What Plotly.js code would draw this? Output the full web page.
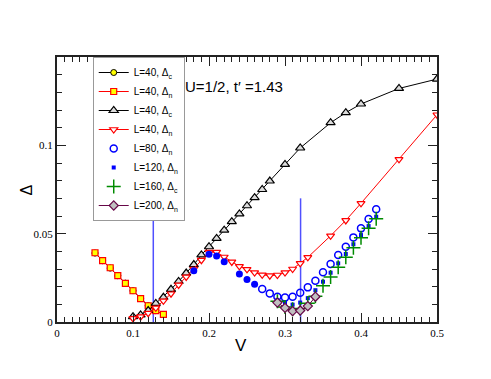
<!DOCTYPE html>
<html>
<head>
<meta charset="utf-8">
<script src="https://cdn.plot.ly/plotly-3.0.1.min.js"></script>
<style>html,body{margin:0;padding:0;background:#fff;}#chart{width:491px;height:379px;}</style>
</head>
<body>
<div id="chart"></div>
<script>
// L=40, Δc (circles, decreasing branch)
const V_c40a = [0.05,0.06,0.07,0.08,0.09,0.10,0.11,0.12,0.13];
const D_c40a = [0.0390,0.0347,0.0305,0.0262,0.0220,0.0177,0.0133,0.0092,0.0064];
// L=40, Δn (squares, decreasing branch)
const V_n40a = [0.05,0.06,0.07,0.08,0.09,0.10,0.11,0.12,0.13,0.14];
const D_n40a = [0.0392,0.0347,0.0307,0.0262,0.0219,0.0177,0.0132,0.0092,0.0064,0.0043];
// L=40, Δc (up triangles)
const V_c40b = [0.10,0.11,0.12,0.13,0.14,0.15,0.16,0.17,0.18,0.19,0.20,0.21,0.22,0.23,0.24,0.25,0.26,0.27,0.28,0.30,0.32,0.36,0.38,0.40,0.45,0.50];
const D_c40b = [0.0030,0.0040,0.0065,0.0105,0.0140,0.0185,0.0230,0.0277,0.0325,0.0380,0.0426,0.0473,0.0520,0.0568,0.0612,0.0658,0.0704,0.0750,0.0798,0.0892,0.0985,0.1128,0.1185,0.1234,0.1322,0.1375];
// L=40, Δn (down triangles)
const V_n40b = [0.10,0.11,0.12,0.13,0.14,0.15,0.16,0.17,0.18,0.19,0.20,0.21,0.22,0.23,0.24,0.25,0.26,0.27,0.28,0.29,0.30,0.31,0.32,0.33,0.36,0.38,0.40,0.45,0.50];
const D_n40b = [0.0020,0.0030,0.0050,0.0080,0.0120,0.0160,0.0210,0.0255,0.0300,0.0350,0.0395,0.0395,0.0368,0.0340,0.0315,0.0298,0.0280,0.0267,0.0262,0.0266,0.0280,0.0300,0.0332,0.0366,0.0488,0.0575,0.0672,0.0921,0.1173];
// unlabelled filled blue circles
const V_fill = [0.18,0.20,0.21,0.22,0.24,0.25,0.26];
const D_fill = [0.0290,0.0383,0.0373,0.0341,0.0272,0.0241,0.0213];
// L=80, Δn
const V_80 = [0.27,0.28,0.29,0.30,0.31,0.32,0.33,0.34,0.35,0.36,0.37,0.38,0.39,0.40,0.41,0.42];
const D_80 = [0.0187,0.0162,0.0143,0.0138,0.0143,0.0166,0.0196,0.0234,0.0281,0.0328,0.0379,0.0426,0.0479,0.0530,0.0583,0.0638];
// L=120, Δn
const V_120 = [0.29,0.30,0.31,0.32,0.33,0.34,0.35,0.36,0.37,0.38,0.39,0.40,0.41,0.42];
const D_120 = [0.0125,0.0108,0.0098,0.0110,0.0135,0.0180,0.0228,0.0279,0.0332,0.0385,0.0440,0.0492,0.0543,0.0596];
// L=160, Δc
const V_160 = [0.29,0.30,0.31,0.32,0.33,0.34,0.35,0.36,0.37,0.38,0.39,0.40,0.41,0.42];
const D_160 = [0.0118,0.0085,0.0072,0.0077,0.0106,0.0146,0.0205,0.0255,0.0310,0.0366,0.0420,0.0477,0.0530,0.0584];
// L=200, Δn
const V_200 = [0.29,0.30,0.31,0.32,0.33,0.34];
const D_200 = [0.0110,0.0080,0.0062,0.0065,0.0090,0.0143];
// vertical marker lines
const VLINE_X = [0.1267, 0.3205];
const VLINE_TOP = 0.07;
const X_TICKS = [0,0.1,0.2,0.3,0.4,0.5];
const X_TICKTEXT = ['0','0.1','0.2','0.3','0.4','0.5'];
const Y_TICKS = [0,0.05,0.1];
const Y_TICKTEXT = ['0','0.05','0.1'];
const NAMES = ['L=40, Δ<sub>c</sub>','L=40, Δ<sub>n</sub>','L=40, Δ<sub>c</sub>','L=40, Δ<sub>n</sub>','L=80, Δ<sub>n</sub>','L=120, Δ<sub>n</sub>','L=160, Δ<sub>c</sub>','L=200, Δ<sub>n</sub>'];
const NOTE = 'U=1/2, t′ =1.43';
const X_TITLE = 'V';
const Y_TITLE = 'Δ';

const traces = [];
VLINE_X.forEach(function(x){
  traces.push({x:[x,x], y:[0,VLINE_TOP], mode:'lines', line:{color:'#5050ff', width:1.5}, showlegend:false, hoverinfo:'skip'});
});
traces.push(
  {x:V_c40a, y:D_c40a, name:NAMES[0], mode:'lines+markers', line:{color:'#000', width:1},
   marker:{symbol:'circle', size:6, color:'#ffff00', line:{color:'#000', width:1}}},
  {x:V_n40a, y:D_n40a, name:NAMES[1], mode:'lines+markers', line:{color:'#ff0000', width:1},
   marker:{symbol:'square', size:6, color:'#ffff00', line:{color:'#ff0000', width:1.2}}},
  {x:V_c40b, y:D_c40b, name:NAMES[2], mode:'lines+markers', line:{color:'#000', width:1},
   marker:{symbol:'triangle-up', size:8, color:'#dcdcdc', line:{color:'#000', width:1.2}}},
  {x:V_n40b, y:D_n40b, name:NAMES[3], mode:'lines+markers', line:{color:'#ff0000', width:1},
   marker:{symbol:'triangle-down', size:7, color:'#ffffff', line:{color:'#ff0000', width:1.2}}},
  {x:V_fill, y:D_fill, mode:'markers', showlegend:false,
   marker:{symbol:'circle', size:7, color:'#0000ff', line:{width:0}}},
  {x:V_80, y:D_80, name:NAMES[4], mode:'markers',
   marker:{symbol:'circle-open', size:7, color:'#0000ff', line:{color:'#0000ff', width:1.5}}},
  {x:V_120, y:D_120, name:NAMES[5], mode:'markers',
   marker:{symbol:'square', size:4, color:'#0000ff', line:{width:0}}},
  {x:V_160, y:D_160, name:NAMES[6], mode:'markers',
   marker:{symbol:'cross-thin-open', size:10, color:'#008b00', line:{color:'#008b00', width:1.5}}},
  {x:V_200, y:D_200, name:NAMES[7], mode:'lines+markers', line:{color:'#670748', width:1},
   marker:{symbol:'diamond', size:7, color:'#c0c0c0', line:{color:'#670748', width:1.2}}}
);

const axisCommon = {
  showline:true, linecolor:'#222', linewidth:2, mirror:'allticks',
  ticks:'inside', ticklen:9, tickwidth:1, tickcolor:'#222',
  showgrid:false, zeroline:false,
  tickfont:{family:'Liberation Serif, serif', size:11, color:'#000'}
};
const sans = 'Liberation Sans, Arial, sans-serif';
const layout = {
  width:491, height:379,
  margin:{l:57, r:54, t:57, b:57},
  paper_bgcolor:'#fff', plot_bgcolor:'#fff',
  font:{family:sans, color:'#000'},
  xaxis:Object.assign({}, axisCommon, {
    range:[0,0.5], tickvals:X_TICKS, ticktext:X_TICKTEXT,
    minor:{dtick:0.01, ticks:'inside', ticklen:5, tickcolor:'#222', tickwidth:1, showgrid:false}
  }),
  yaxis:Object.assign({}, axisCommon, {
    range:[0,0.15], tickvals:Y_TICKS, ticktext:Y_TICKTEXT,
    minor:{dtick:0.01, ticks:'inside', ticklen:5, tickcolor:'#222', tickwidth:1, showgrid:false}
  }),
  legend:{x:0.094, y:1, xanchor:'left', yanchor:'top', bgcolor:'#fff', bordercolor:'#999', borderwidth:1,
    font:{size:10, family:sans, color:'#000'}, tracegroupgap:0, itemwidth:30},
  annotations:[
    {text:NOTE, xref:'paper', yref:'paper', x:0.332, y:0.89, xanchor:'left', yanchor:'middle',
     showarrow:false, font:{size:15, family:sans, color:'#000'}},
    {text:X_TITLE, xref:'paper', yref:'paper', x:0.485, y:-0.088, xanchor:'center', yanchor:'middle',
     showarrow:false, font:{size:17, family:sans, color:'#000'}},
    {text:Y_TITLE, xref:'paper', yref:'paper', x:-0.079, y:0.5, xanchor:'center', yanchor:'middle', textangle:-90,
     showarrow:false, font:{size:16, family:sans, color:'#000'}}
  ]
};
Plotly.newPlot('chart', traces, layout, {displayModeBar:false, staticPlot:true});
</script>
</body>
</html>
